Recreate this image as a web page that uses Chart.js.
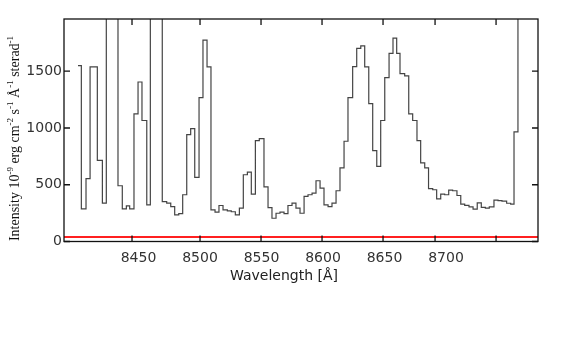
<!DOCTYPE html>
<html>
<head>
<meta charset="utf-8">
<script src="https://cdn.jsdelivr.net/npm/chart.js@4.4.1/dist/chart.umd.min.js"></script>
<style>
  html, body { margin: 0; padding: 0; background: #fff; }
</style>
</head>
<body>
<canvas id="spectrumChart" width="576" height="343"></canvas>
<script>
// Bin start wavelengths [Angstrom]
const wavelengths = [
  8400.8, 8403.5, 8407.3, 8410.6, 8416.5, 8420.6, 8423.8, 8433.3, 8436.8, 8440.1,
  8442.8, 8446.3, 8449.6, 8452.8, 8456.7, 8459.6, 8469.3, 8472.9, 8476.2, 8479.4,
  8482.7, 8485.9, 8489.2, 8492.4, 8495.7, 8499.2, 8502.4, 8505.7, 8508.9, 8512.2,
  8515.4, 8518.7, 8522.2, 8525.4, 8528.7, 8532.0, 8535.2, 8538.5, 8541.7, 8545.0,
  8548.2, 8552.0, 8555.3, 8558.5, 8561.8, 8565.0, 8568.3, 8571.5, 8574.8, 8578.0,
  8581.3, 8584.6, 8587.8, 8591.1, 8594.3, 8597.6, 8600.8, 8604.1, 8607.3, 8610.6,
  8613.8, 8617.1, 8620.3, 8624.1, 8627.4, 8630.7, 8633.9, 8637.2, 8640.4, 8643.7,
  8646.9, 8650.2, 8653.7, 8656.9, 8659.9, 8662.6, 8666.4, 8669.7, 8672.9, 8676.4,
  8679.4, 8682.7, 8685.8, 8689.2, 8692.4, 8695.7, 8698.9, 8702.2, 8705.4, 8708.9,
  8712.0, 8715.2, 8718.7, 8722.0, 8725.4, 8728.7, 8732.0, 8735.2, 8739.0, 8742.3,
  8745.5, 8749.3, 8752.6, 8755.3, 8758.5, 8761.8
];

// Intensity per bin (10^-9 erg cm^-2 s^-1 A^-1 sterad^-1); 2400 = runs off the top
const intensity = [
  1550, 288, 553, 1538, 715, 338, 2400, 491, 288, 314,
  288, 1125, 1405, 1066, 323, 2400, 352, 338, 308, 235,
  245, 412, 942, 995, 565, 1267, 1774, 1538, 279, 258,
  317, 279, 270, 262, 235, 294, 588, 612, 417, 889,
  907, 482, 299, 205, 249, 258, 246, 317, 338, 294,
  249, 397, 412, 426, 535, 470, 323, 308, 338, 447,
  648, 883, 1267, 1541, 1701, 1724, 1538, 1214, 801, 662,
  1066, 1444, 1657, 1792, 1657, 1479, 1459, 1125, 1066, 889,
  692, 648, 465, 456, 376, 418, 412, 453, 447, 405,
  329, 318, 305, 285, 340, 300, 294, 305, 364, 360,
  355, 337, 330, 966, 2400, 2400
];

const xTickLabels = [8450, 8500, 8550, 8600, 8650, 8700];
const xTickMarks = [8444.7, 8500, 8549.6, 8599.2, 8648.8, 8691.1, 8740.7];
const yTickLabels = [0, 500, 1000, 1500];
const redLevel = 40;

const xMin = 8389.4, xMax = 8774.8;
const yMin = 0, yMax = 1960;

// y title pieces: [text, superscript?]
const yTitleParts = [
  ['Intensity 10', false], ['-9', true], [' erg cm', false], ['-2', true],
  [' s', false], ['-1', true], [' \u00C5', false], ['-1', true],
  [' sterad', false], ['-1', true]
];

// inward ticks, box frame and axis titles
const framePlugin = {
  id: 'frame',
  afterDatasetsDraw(chart) {
    const { ctx, chartArea: a, scales: { x, y } } = chart;
    ctx.save();
    ctx.strokeStyle = '#111';
    ctx.lineWidth = 1.3;
    ctx.strokeRect(a.left, a.top, a.right - a.left, a.bottom - a.top);

    ctx.beginPath();
    xTickMarks.forEach(v => {
      const px = x.getPixelForValue(v);
      ctx.moveTo(px, a.bottom); ctx.lineTo(px, a.bottom - 6);
      ctx.moveTo(px, a.top); ctx.lineTo(px, a.top + 6);
    });
    yTickLabels.forEach(v => {
      const py = y.getPixelForValue(v);
      ctx.moveTo(a.left, py); ctx.lineTo(a.left + 6, py);
      ctx.moveTo(a.right, py); ctx.lineTo(a.right - 6, py);
    });
    ctx.stroke();

    // x title
    ctx.fillStyle = '#222';
    ctx.font = '14px "DejaVu Sans"';
    ctx.textAlign = 'center';
    ctx.textBaseline = 'middle';
    ctx.fillText('Wavelength [\u00C5]', a.left + 220, 276.5);

    // y title, rotated, with superscripts
    const baseFont = '14px "Liberation Serif", "DejaVu Serif", serif';
    const supFont = '9px "Liberation Serif", "DejaVu Serif", serif';
    let total = 0;
    yTitleParts.forEach(([t, sup]) => {
      ctx.font = sup ? supFont : baseFont;
      total += ctx.measureText(t).width;
    });
    ctx.translate(18.5, 138.5);
    ctx.rotate(-Math.PI / 2);
    ctx.textAlign = 'left';
    ctx.textBaseline = 'alphabetic';
    ctx.fillStyle = '#111';
    let cx = -total / 2;
    yTitleParts.forEach(([t, sup]) => {
      ctx.font = sup ? supFont : baseFont;
      ctx.fillText(t, cx, sup ? -6 : 0);
      cx += ctx.measureText(t).width;
    });
    ctx.restore();
  }
};

const ctx = document.getElementById('spectrumChart').getContext('2d');

const spectrumChart = new Chart(ctx, {
  type: 'line',
  data: {
    datasets: [
      {
        data: wavelengths.map((w, i) => ({ x: w, y: intensity[i] })),
        stepped: 'before',
        borderColor: '#444',
        borderWidth: 1.2,
        pointRadius: 0,
        fill: false
      },
      {
        data: [{ x: xMin, y: redLevel }, { x: xMax, y: redLevel }],
        borderColor: '#ff2020',
        borderWidth: 2,
        pointRadius: 0,
        fill: false
      }
    ]
  },
  options: {
    responsive: false,
    animation: false,
    layout: { padding: { top: 19, right: 38, left: 0, bottom: 0 } },
    plugins: {
      legend: { display: false },
      tooltip: { enabled: false }
    },
    scales: {
      x: {
        type: 'linear',
        min: xMin,
        max: xMax,
        afterBuildTicks: s => { s.ticks = xTickLabels.map(v => ({ value: v })); },
        afterFit: s => { s.height = 101.5; },
        ticks: {
          padding: 8,
          maxRotation: 0,
          autoSkip: false,
          color: '#333',
          font: { family: 'DejaVu Sans', size: 14 },
          callback: v => String(v)
        },
        grid: { display: false, drawTicks: false },
        border: { display: false }
      },
      y: {
        min: yMin,
        max: yMax,
        afterBuildTicks: s => { s.ticks = yTickLabels.map(v => ({ value: v })); },
        afterFit: s => { s.width = 64; },
        ticks: {
          padding: 2,
          color: '#333',
          font: { family: 'DejaVu Sans', size: 14 },
          callback: v => String(v)
        },
        grid: { display: false, drawTicks: false },
        border: { display: false }
      }
    }
  },
  plugins: [framePlugin]
});
</script>
</body>
</html>
